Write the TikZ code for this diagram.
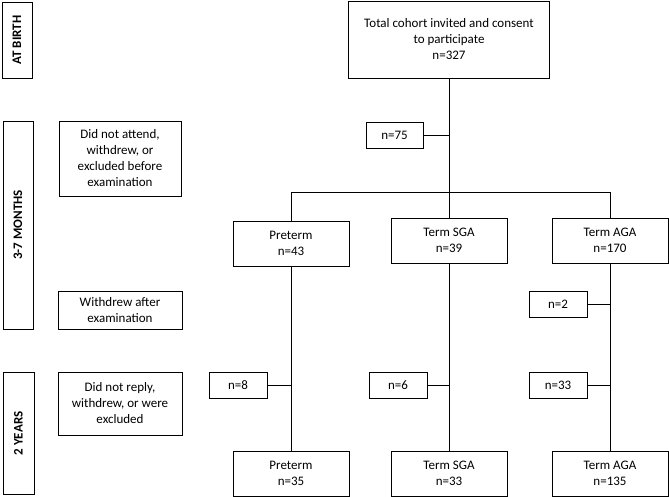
\documentclass[tikz,border=0pt]{standalone}
\usepackage{fontspec}
\setmainfont{Carlito}
\begin{document}
\begin{tikzpicture}[x=1pt,y=-1pt,
  box/.style={draw, line width=0.9pt, align=center, inner sep=0pt,
    font=\fontsize{13}{16}\selectfont},
  side/.style={box, font=\fontsize{13}{16}\selectfont\bfseries, rotate=90},
  conn/.style={line width=0.9pt}]
\useasboundingbox (0,0) rectangle (669,497);
% stage labels
\node[side, minimum width=76, minimum height=30] (birth) at (17,40) {AT BIRTH};
\node[side, minimum width=208, minimum height=30] (months) at (18,225) {3-7 MONTHS};
\node[side, minimum width=122, minimum height=31] (years) at (18.5,433.5) {2 YEARS};
% left explanations
\node[box, minimum width=122, minimum height=75] (excl1) at (120,158.5) {Did not attend,\\withdrew, or\\excluded before\\examination};
\node[box, minimum width=124, minimum height=38] (excl2) at (120,310) {Withdrew after\\examination};
\node[box, minimum width=124, minimum height=63] (excl3) at (120,403.5) {Did not reply,\\withdrew, or were\\excluded};
% main boxes
\node[box, minimum width=201, minimum height=77] (top) at (449,39.5) {Total cohort invited and consent\\to participate\\n=327};
\node[box, minimum width=57, minimum height=26] (n75) at (394.5,135) {n=75};
\node[box, minimum width=116, minimum height=45] (pre1) at (291,243.5) {Preterm\\n=43};
\node[box, minimum width=116, minimum height=45] (sga1) at (449,240.5) {Term SGA\\n=39};
\node[box, minimum width=116, minimum height=45] (aga1) at (610,240.5) {Term AGA\\n=170};
\node[box, minimum width=58, minimum height=26] (n2) at (558,304) {n=2};
\node[box, minimum width=58, minimum height=26] (n8) at (238,385) {n=8};
\node[box, minimum width=58, minimum height=26] (n6) at (398,385) {n=6};
\node[box, minimum width=58, minimum height=26] (n33) at (558,385) {n=33};
\node[box, minimum width=116, minimum height=45] (pre2) at (291,473.5) {Preterm\\n=35};
\node[box, minimum width=116, minimum height=45] (sga2) at (449,473.5) {Term SGA\\n=33};
\node[box, minimum width=116, minimum height=45] (aga2) at (610,473.5) {Term AGA\\n=135};
% connectors
\coordinate (j) at (449,192);
\draw[conn] (top.south) -- (j);
\draw[conn] (j) -| (pre1.north);
\draw[conn] (j) -| (aga1.north);
\draw[conn] (j) -- (sga1.north);
\draw[conn] (n75.east) -- (n75.east -| top.south);
\draw[conn] (pre1.south) -- (pre2.north);
\draw[conn] (sga1.south) -- (sga2.north);
\draw[conn] (aga1.south) -- (aga2.north);
\draw[conn] (n2.east) -- (n2.east -| aga1.south);
\draw[conn] (n8.east) -- (n8.east -| pre1.south);
\draw[conn] (n6.east) -- (n6.east -| sga1.south);
\draw[conn] (n33.east) -- (n33.east -| aga1.south);
\end{tikzpicture}
\end{document}
